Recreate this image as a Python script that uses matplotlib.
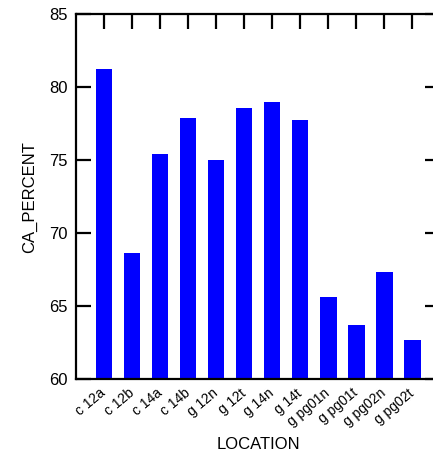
import matplotlib.pyplot as plt
import matplotlib.transforms as mtrans

plt.rcParams['font.family'] = ['Liberation Sans', 'DejaVu Sans']

# bar data
locations = ['c 12a', 'c 12b', 'c 14a', 'c 14b', 'g 12n', 'g 12t', 'g 14n', 'g 14t',
             'g pg01n', 'g pg01t', 'g pg02n', 'g pg02t']
ca_percent = [81.23, 68.65, 75.41, 77.86, 75.02, 78.58, 78.99, 77.77,
              65.62, 63.68, 67.31, 62.63]
y_ticks = [60, 65, 70, 75, 80, 85]

fig = plt.figure(figsize=(4.33, 4.62), dpi=100)
ax = fig.add_axes([0.1755, 0.180, 0.841, 0.789])

x = list(range(len(locations)))
ax.bar(x, ca_percent, width=0.6, color='#0000ff')

ax.set_xlim(-1, 12)
ax.set_ylim(60, 85)
ax.set_yticks(y_ticks)
ax.set_xticks(x)
ax.set_xticklabels(locations, rotation=40, ha='right', va='center',
                   rotation_mode='anchor', fontsize=10)
# shift labels a little to the right of each bar, as in the original
offset = mtrans.ScaledTranslation(9 / 100, 0, fig.dpi_scale_trans)
for lbl in ax.get_xticklabels():
    lbl.set_transform(lbl.get_transform() + offset)

for side in ['left', 'right', 'top', 'bottom']:
    ax.spines[side].set_linewidth(1.6)

ax.tick_params(axis='y', direction='in', length=11, width=1.6, labelsize=12,
               right=True, pad=6)
ax.tick_params(axis='x', direction='in', length=11, width=1.6, top=True, bottom=False,
               pad=9)

ax.set_xlabel('LOCATION', fontsize=12, labelpad=6)
ax.set_ylabel('CA_PERCENT', fontsize=12, labelpad=9)

plt.savefig('out.png', dpi=100)
